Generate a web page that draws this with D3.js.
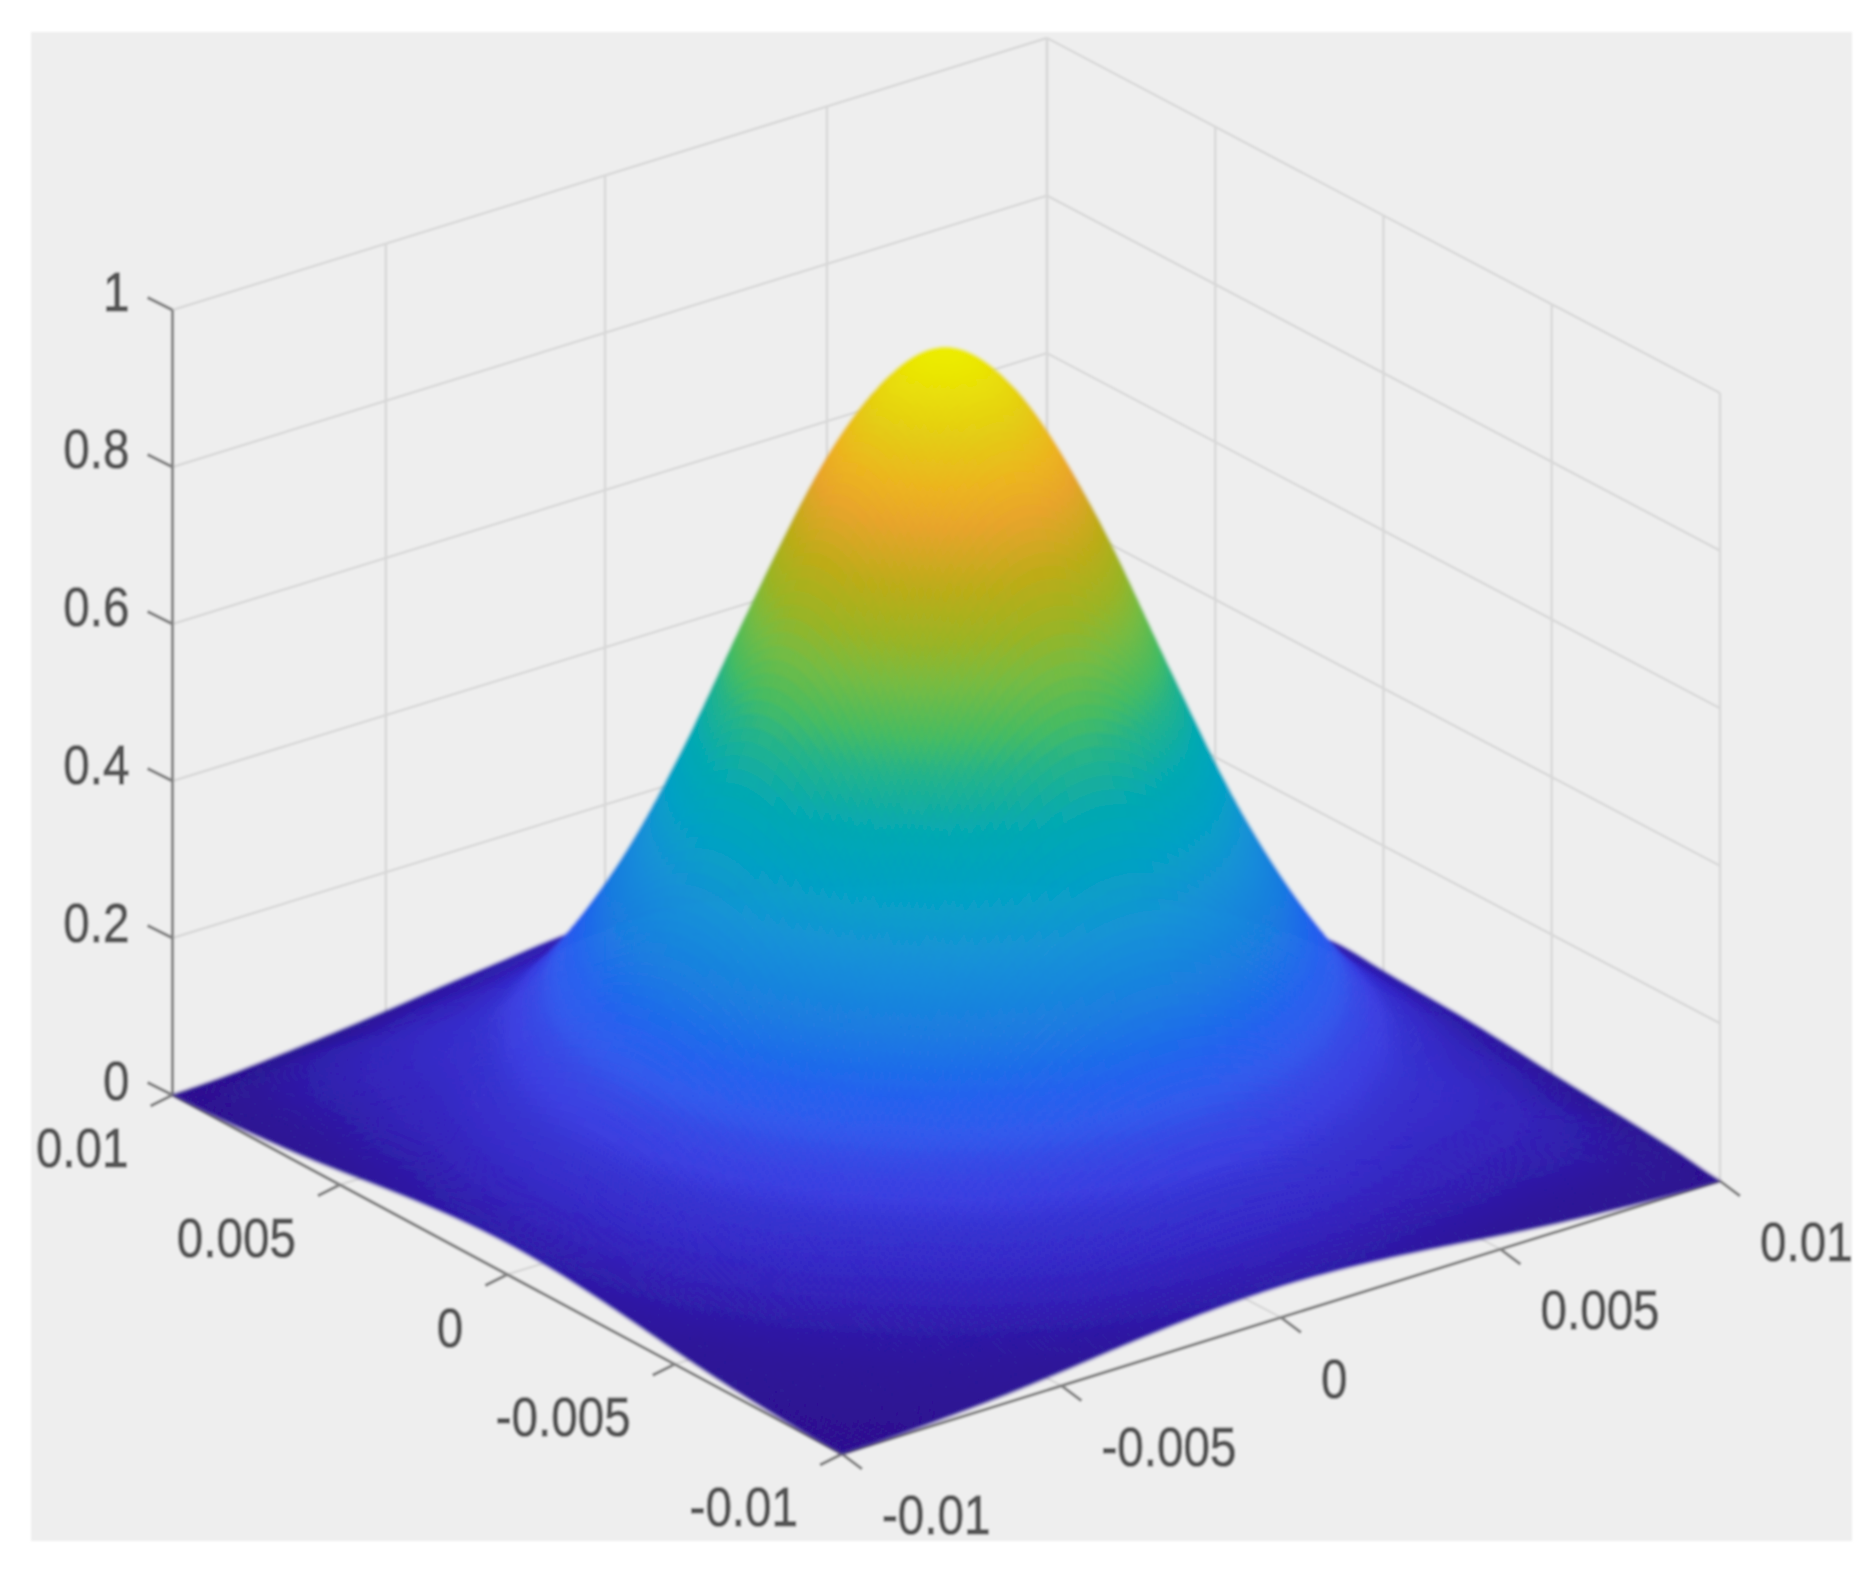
<!DOCTYPE html>
<html><head><meta charset="utf-8">
<script src="https://cdn.jsdelivr.net/npm/d3@7"></script>
<style>html,body{margin:0;padding:0;background:#fff}svg{display:block}</style>
</head><body><div id="c"></div>
<script>
// ---- data ----
const xTicks=[-0.01,-0.005,0,0.005,0.01];
const yTicks=[-0.01,-0.005,0,0.005,0.01];
const zTicks=[0,0.2,0.4,0.6,0.8,1];
const xTickLabels=["-0.01","-0.005","0","0.005","0.01"];
const yTickLabels=["-0.01","-0.005","0","0.005","0.01"];
const zTickLabels=["0","0.2","0.4","0.6","0.8","1"];
const gridCoords=[-0.01,-0.00875,-0.0075,-0.00625,-0.005,-0.00375,-0.0025,-0.00125,0,0.00125,0.0025,0.00375,0.005,0.00625,0.0075,0.00875,0.01];
const zRows=[
[.000,.002,.006,.011,.018,.026,.033,.038,.040,.038,.033,.026,.018,.011,.006,.002,.000],
[.002,.006,.014,.025,.038,.058,.075,.087,.092,.087,.075,.062,.055,.045,.040,.025,.008],
[.006,.014,.028,.049,.079,.111,.141,.164,.172,.164,.141,.111,.085,.075,.060,.040,.014],
[.011,.025,.049,.087,.135,.190,.241,.277,.290,.277,.241,.190,.135,.100,.075,.045,.019],
[.018,.038,.079,.135,.209,.290,.368,.425,.446,.425,.368,.290,.209,.135,.085,.055,.024],
[.026,.058,.111,.190,.290,.404,.518,.602,.633,.602,.518,.404,.290,.190,.111,.062,.030],
[.033,.075,.141,.241,.368,.518,.665,.774,.814,.774,.665,.518,.368,.241,.141,.075,.035],
[.038,.087,.164,.277,.425,.602,.774,.899,.947,.899,.774,.602,.425,.277,.164,.087,.038],
[.040,.092,.172,.290,.446,.633,.814,.947,1.00,.947,.814,.633,.446,.290,.172,.092,.041],
[.038,.087,.164,.277,.425,.602,.774,.899,.947,.899,.774,.602,.425,.277,.164,.087,.045],
[.033,.075,.141,.241,.368,.518,.665,.774,.814,.774,.665,.518,.368,.241,.141,.075,.040],
[.026,.062,.111,.190,.290,.404,.518,.602,.633,.602,.518,.404,.290,.190,.111,.058,.035],
[.018,.055,.085,.135,.209,.290,.368,.425,.446,.425,.368,.290,.209,.135,.079,.038,.024],
[.011,.045,.075,.100,.135,.190,.241,.277,.290,.277,.241,.190,.135,.087,.049,.025,.016],
[.006,.040,.060,.075,.085,.111,.141,.164,.172,.164,.141,.111,.079,.049,.028,.014,.009],
[.002,.025,.040,.045,.055,.062,.075,.087,.092,.087,.075,.058,.038,.025,.014,.006,.003],
[.000,.003,.009,.016,.024,.033,.041,.049,.052,.049,.041,.033,.024,.016,.009,.003,.000]];
const colorStops=[0,.02,.04,.06,.09,.118,.145,.175,.205,.24,.275,.31,.38,.45,.52,.58,.62,.67,.72,.775,.84,.88,.93,1];
const colorValues=["#2a1290","#2a1598","#2c1aa8","#3020b8","#3428c8","#3430d0","#3a3ce0","#3646e4","#3058ec","#2560ee","#1c6ee8","#1a7ce0","#1890d8","#04a2c4","#06aab0","#26b488","#48bc60","#74bc44","#9cb424","#bcac18","#e8a42c","#ecb420","#e4cc14","#ecec00"];
// read positions of the back-wall ticks along the back-left edge (fraction of the edge)
const backWallFractions=[0,0.244,0.4946,0.7484,1];

// ---- layout ----
const W=1873,H=1575;
const F=[842,1454],R=[1720,1181],L=[172.5,1095],B=[1047,826];
const xs=d3.scaleLinear().domain([-0.01,0.01]).range([0,1]);
const ys=d3.scaleLinear().domain([-0.01,0.01]).range([0,1]);
const xBack=d3.scaleLinear().domain(xTicks).range(backWallFractions);
const zs=d3.scaleLinear().domain([0,1]).range([0,788]);
const color=d3.scaleLinear().domain(colorStops).range(colorValues).interpolate(d3.interpolateRgb).clamp(true);
function uvProject(u,v,z){
  const px=F[0]*(1-u)*(1-v)+R[0]*u*(1-v)+L[0]*(1-u)*v+B[0]*u*v;
  const py=F[1]*(1-u)*(1-v)+R[1]*u*(1-v)+L[1]*(1-u)*v+B[1]*u*v;
  const squeeze=(1-u)*v*(785/788)+(1-(1-u)*v);
  return [px,py-zs(z)*squeeze];
}
const project=(x,y,z)=>uvProject(xs(x),ys(y),z);
const backPoint=(x,z)=>uvProject(xBack(x),1,z);

const svg=d3.select("#c").append("svg").attr("width",W).attr("height",H);
const defs=svg.append("defs");
defs.append("filter").attr("id","soft").attr("x","-2%").attr("y","-2%").attr("width","104%").attr("height","104%")
  .append("feGaussianBlur").attr("stdDeviation",1.1);
defs.append("filter").attr("id","softer").attr("x","-2%").attr("y","-2%").attr("width","104%").attr("height","104%")
  .append("feGaussianBlur").attr("stdDeviation",1.5);
svg.append("rect").attr("x",0).attr("y",0).attr("width",W).attr("height",H).attr("fill","#fff");
const root=svg.append("g").attr("filter","url(#soft)");
root.append("rect").attr("x",31).attr("y",32).attr("width",1821).attr("height",1509).attr("fill","#eeeeee");

const line=d3.line();
const gridG=root.append("g").attr("fill","none").attr("stroke","#d8d8d8").attr("stroke-width",2.4);
function seg(g,a,b){g.append("path").attr("d",line([a,b]));}
zTicks.forEach(z=>{
  seg(gridG,backPoint(-0.01,z),backPoint(0.01,z));
  seg(gridG,project(0.01,0.01,z),project(0.01,-0.01,z));
});
xTicks.forEach(x=>seg(gridG,backPoint(x,0),backPoint(x,1)));
yTicks.forEach(y=>seg(gridG,project(0.01,y,0),project(0.01,y,1)));
xTicks.forEach(x=>seg(gridG,project(x,-0.01,0),backPoint(x,0)));
yTicks.forEach(y=>seg(gridG,project(-0.01,y,0),project(0.01,y,0)));

const axG=root.append("g").attr("fill","none").attr("stroke","#858585").attr("stroke-width",3.2);
seg(axG,project(-0.01,0.01,0),project(-0.01,0.01,1));
seg(axG,project(-0.01,-0.01,0),project(0.01,-0.01,0));
seg(axG,project(-0.01,-0.01,0),project(-0.01,0.01,0));
zTicks.forEach(z=>{const p=project(-0.01,0.01,z);seg(axG,p,[p[0]-25,p[1]-12.5]);});
xTicks.forEach(x=>{const p=project(x,-0.01,0);seg(axG,p,[p[0]+20,p[1]+15]);});
yTicks.forEach(y=>{const p=project(-0.01,y,0);seg(axG,p,[p[0]-22,p[1]+11]);});

// surface: smooth Catmull-Rom mesh over the read grid
function cr(a,b,c,d,t){return b+0.5*t*(c-a+t*(2*a-5*b+4*c-d+t*(3*(b-c)+d-a)));}
const n=zRows.length-1;
function zAt(fx,fy){
  const i=Math.min(n-1,Math.floor(fy)),j=Math.min(n-1,Math.floor(fx));
  const ty=fy-i,tx=fx-j;
  const row=k=>{const r=zRows[Math.max(0,Math.min(n,k))];
    const g=m=>r[Math.max(0,Math.min(n,m))];
    return cr(g(j-1),g(j),g(j+1),g(j+2),tx);};
  return Math.max(0,cr(row(i-1),row(i),row(i+1),row(i+2),ty));
}
const sub=12,M=n*sub;
const gx=d3.scaleLinear().domain([0,n]).range([gridCoords[0],gridCoords[n]]);
const cells=[];
for(let a=M-1;a>=0;a--)for(let b=M-1;b>=0;b--)cells.push([a,b]);
cells.sort((p,q)=>(q[0]+q[1])-(p[0]+p[1]));
root.append("g").attr("filter","url(#softer)").selectAll("path").data(cells).join("path")
 .attr("d",([a,b])=>{
   const c=[[a,b],[a+1,b],[a+1,b+1],[a,b+1]].map(([r,s])=>project(gx(s/sub),gx(r/sub),zAt(s/sub,r/sub)));
   return line(c)+"Z";})
 .attr("fill",([a,b])=>color(zAt((b+.5)/sub,(a+.5)/sub)))
 .attr("stroke",([a,b])=>color(zAt((b+.5)/sub,(a+.5)/sub)))
 .attr("stroke-width",0.7);

// labels
const fs=56,sx=0.85,tc="#555555";
const tg=root.append("g").attr("font-family","'Liberation Sans',Arial,sans-serif").attr("font-size",fs)
  .attr("fill",tc).attr("stroke",tc).attr("stroke-width",1.2);
function label(txt,px,py,anchor){
  tg.append("text").attr("transform",`translate(${px},${py+0.358*fs}) scale(${sx},1)`).attr("text-anchor",anchor).text(txt);
}
zTicks.forEach((z,i)=>{const p=project(-0.01,0.01,z);label(zTickLabels[i],p[0]-43,p[1]-15.5-4*z,"end");});
xTicks.forEach((x,i)=>{const p=project(x,-0.01,0);label(xTickLabels[i],p[0]+40,p[1]+60,"start");});
yTicks.forEach((y,i)=>{const p=project(-0.01,y,0);label(yTickLabels[i],p[0]-44,p[1]+52,"end");});
</script></body></html>
